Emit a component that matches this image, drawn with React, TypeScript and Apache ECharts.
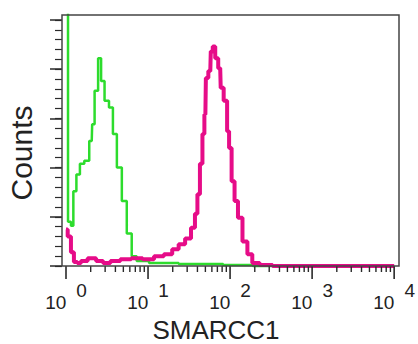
import React, { useEffect, useRef } from "react";
import * as echarts from "echarts";

// Isotype control (green) : [channel value, counts]
const greenHist: [number, number][] = [
  [1.0, 400], [1.12, 45], [1.18, 41], [1.28, 76], [1.4, 93], [1.56, 104], [1.79, 107],
  [2.06, 127], [2.11, 144], [2.36, 178], [2.57, 211], [2.79, 188], [3.12, 168],
  [3.58, 161], [3.89, 134], [4.47, 100], [5.14, 66], [5.9, 33], [6.78, 10],
  [7.79, 5], [13.6, 3], [41, 2], [165, 1], [218, 0], [10000, 0],
];

// SMARCC1 antibody (magenta) : [channel value, counts]
const magentaHist: [number, number][] = [
  [1.0, 37], [1.1, 30], [1.2, 14], [1.3, 4], [1.45, 3], [1.6, 5], [2.11, 8],
  [2.57, 5], [3.12, 3], [3.89, 5], [5.43, 7], [7.17, 8], [10.3, 7], [13.6, 10],
  [17.9, 12], [21.7, 17], [25.7, 22], [31.2, 28], [35.8, 39], [38.9, 53],
  [41.1, 73], [44.8, 104], [47.3, 134], [50.0, 154], [51.4, 191], [57.4, 198],
  [59.0, 218], [64.1, 223], [67.8, 211], [75.8, 201], [78.0, 181], [89.5, 168],
  [94.6, 137], [100, 120], [109, 86], [118, 66], [132, 49], [152, 25], [174, 12],
  [200, 3], [264, 1], [411, 0], [10000, 0],
];

const majorYTicks = [0, 50, 100, 150, 200, 250];
const minorYTicks = [
  0, 10, 20, 30, 40, 50, 60, 70, 80, 90, 100, 110, 120, 130, 140, 150, 160, 170,
  180, 190, 200, 210, 220, 230, 240, 250,
];
const majorXTicks = [1, 10, 100, 1000, 10000];
const minorXTicks = [
  2, 3, 4, 5, 6, 7, 8, 9, 20, 30, 40, 50, 60, 70, 80, 90, 200, 300, 400, 500,
  600, 700, 800, 900, 2000, 3000, 4000, 5000, 6000, 7000, 8000, 9000,
];

const FONT = "'Liberation Sans', Arial, sans-serif";
const TICK = "#2a2a2a";

function tickSeries(name: string, values: number[], len: number, w: number) {
  return {
    type: "custom",
    name,
    xAxisIndex: 0,
    yAxisIndex: 0,
    clip: false,
    silent: true,
    z: 50,
    data: values.map((v) => [v, 0]),
    renderItem: (_params: any, api: any) => {
      const p = api.coord([api.value(0), api.value(1)]);
      return {
        type: "rect",
        shape: { x: p[0] - w / 2, y: p[1], width: w, height: len },
        style: { fill: TICK },
      };
    },
  };
}

export default function App() {
  const ref = useRef<HTMLDivElement>(null);
  useEffect(() => {
    if (!ref.current) return;
    const chart = echarts.init(ref.current, null, { renderer: "svg" });
    chart.setOption({
      animation: false,
      backgroundColor: "#fff",
      grid: { left: 66, right: 20, top: 15, bottom: 64, containLabel: false },
      xAxis: [
        {
          type: "log",
          logBase: 10,
          min: 1,
          max: 10000,
          position: "bottom",
          axisLine: { show: false },
          splitLine: { show: false },
          axisTick: { show: false },
          axisLabel: {
            show: true,
            margin: 6,
            showMinLabel: true,
            showMaxLabel: true,
            formatter: (v: number) => `{b|10}{s|${Math.round(Math.log10(v))}}`,
            rich: {
              b: { fontSize: 19, fontFamily: FONT, color: "#222", lineHeight: 20, padding: [12, 0, 0, 0] },
              s: { fontSize: 19, fontFamily: FONT, color: "#222", lineHeight: 20, padding: [0, 0, 12, 10] },
            },
          },
        },
      ],
      yAxis: [
        {
          type: "value",
          min: -14.2,
          max: 255,
          position: "left",
          offset: 4,
          axisLine: { show: false },
          splitLine: { show: false },
          axisLabel: { show: false },
          axisTick: { show: true, length: 12, customValues: majorYTicks, lineStyle: { color: TICK, width: 1.5 } },
        },
        {
          type: "value",
          min: -14.2,
          max: 255,
          position: "left",
          offset: 4,
          axisLine: { show: false },
          splitLine: { show: false },
          axisLabel: { show: false },
          axisTick: { show: true, length: 7, customValues: minorYTicks, lineStyle: { color: TICK, width: 1.2 } },
        },
      ],
      series: [
        {
          type: "line",
          name: "Isotype",
          data: greenHist,
          step: "middle",
          showSymbol: false,
          symbol: "none",
          clip: true,
          lineStyle: { color: "#2ddc2d", width: 2.5 },
          xAxisIndex: 0,
          yAxisIndex: 0,
        },
        {
          type: "line",
          name: "SMARCC1",
          data: magentaHist,
          step: "middle",
          showSymbol: false,
          symbol: "none",
          clip: true,
          lineStyle: { color: "#e60c88", width: 4 },
          xAxisIndex: 0,
          yAxisIndex: 0,
        },
        tickSeries("major x ticks", majorXTicks, 13, 1.6),
        tickSeries("minor x ticks", minorXTicks, 6, 1.4),
      ],
      graphic: [
        {
          type: "rect",
          z: 100,
          shape: { x: 62, y: 15, width: 337, height: 251 },
          style: { fill: "none", stroke: "#444", lineWidth: 1.5 },
        },
        {
          type: "text",
          x: 21,
          y: 153,
          rotation: Math.PI / 2,
          style: { text: "Counts", font: `30px ${FONT}`, fill: "#222", align: "center", verticalAlign: "middle" },
        },
        {
          type: "text",
          x: 216,
          y: 330,
          style: { text: "SMARCC1", font: `26px ${FONT}`, fill: "#222", align: "center", verticalAlign: "middle" },
        },
      ],
    });
    return () => chart.dispose();
  }, []);
  return <div ref={ref} style={{ width: 418, height: 344, position: "absolute", left: 0, top: 0 }} />;
}
